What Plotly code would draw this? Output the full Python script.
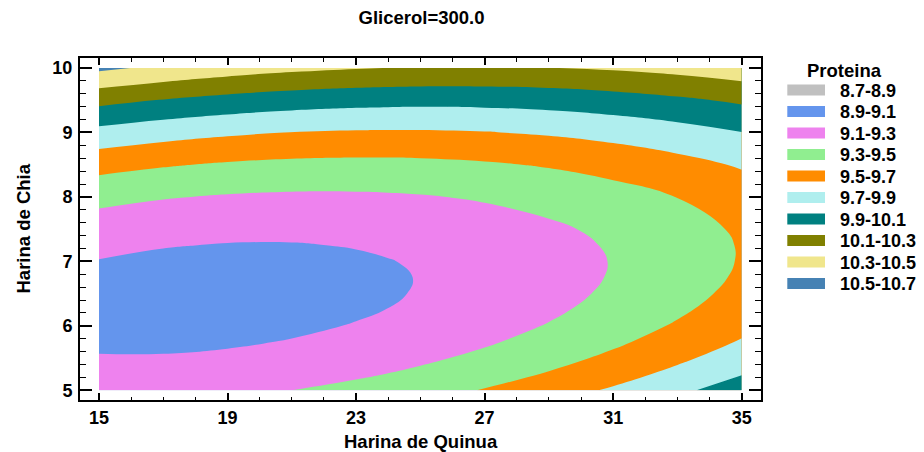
import plotly.graph_objects as go

# ---------------- data ----------------
harina_quinua = [15, 17, 19, 21, 23, 24, 25, 27, 29, 31, 33, 35]
harina_chia = [5.0, 5.25, 5.5, 5.75, 6.0, 6.25, 6.5, 6.75, 7.0, 7.25, 7.5,
               8.0, 8.5, 9.0, 9.5, 10.0]
# Proteina estimated at each (Harina de Chia row, Harina de Quinua column)
proteina = [
    [9.225, 9.235, 9.260, 9.300, 9.355, 9.388, 9.425, 9.510, 9.611, 9.726, 9.857, 10.002],
    [9.161, 9.166, 9.187, 9.222, 9.273, 9.304, 9.338, 9.419, 9.515, 9.626, 9.752, 9.893],
    [9.110, 9.111, 9.127, 9.158, 9.204, 9.233, 9.265, 9.342, 9.433, 9.539, 9.661, 9.797],
    [9.073, 9.070, 9.081, 9.108, 9.149, 9.176, 9.206, 9.278, 9.365, 9.467, 9.583, 9.716],
    [9.050, 9.042, 9.049, 9.071, 9.108, 9.132, 9.160, 9.228, 9.310, 9.407, 9.520, 9.647],
    [9.040, 9.028, 9.030, 9.048, 9.080, 9.102, 9.128, 9.191, 9.269, 9.362, 9.470, 9.593],
    [9.044, 9.027, 9.025, 9.038, 9.067, 9.086, 9.110, 9.168, 9.242, 9.330, 9.434, 9.552],
    [9.062, 9.041, 9.034, 9.043, 9.066, 9.084, 9.105, 9.159, 9.228, 9.312, 9.411, 9.525],
    [9.094, 9.068, 9.057, 9.061, 9.080, 9.095, 9.114, 9.164, 9.228, 9.307, 9.402, 9.512],
    [9.139, 9.108, 9.093, 9.092, 9.107, 9.120, 9.137, 9.182, 9.242, 9.317, 9.407, 9.512],
    [9.198, 9.163, 9.143, 9.138, 9.148, 9.159, 9.173, 9.214, 9.269, 9.340, 9.425, 9.526],
    [9.357, 9.312, 9.284, 9.270, 9.271, 9.277, 9.287, 9.319, 9.365, 9.427, 9.503, 9.595],
    [9.570, 9.517, 9.479, 9.456, 9.449, 9.450, 9.456, 9.478, 9.516, 9.568, 9.636, 9.719],
    [9.838, 9.776, 9.729, 9.698, 9.681, 9.678, 9.679, 9.693, 9.721, 9.765, 9.823, 9.897],
    [10.161, 10.090, 10.035, 9.994, 9.968, 9.961, 9.957, 9.962, 9.981, 10.016, 10.066, 10.130],
    [10.539, 10.459, 10.394, 10.345, 10.310, 10.298, 10.290, 10.286, 10.296, 10.322, 10.363, 10.418],
]
band_labels = ["8.7-8.9", "8.9-9.1", "9.1-9.3", "9.3-9.5", "9.5-9.7",
               "9.7-9.9", "9.9-10.1", "10.1-10.3", "10.3-10.5", "10.5-10.7"]
level_start, level_end, level_step = 8.9, 10.5, 0.2
x_ticks = [15, 19, 23, 27, 31, 35]
y_ticks = [5, 6, 7, 8, 9, 10]
title_text = "Glicerol=300.0"
x_title = "Harina de Quinua"
y_title = "Harina de Chia"
legend_title = "Proteina"

# ---------------- styling ----------------
band_colors = ["#C0C0C0", "#6495ED", "#EE82EE", "#90EE90", "#FF8C00",
               "#AFEEEE", "#008080", "#808000", "#F0E68C", "#4682B4"]
FONT = "Liberation Sans, Arial, Helvetica, sans-serif"
W, H = 924, 452
L, R, T, B = 80, 761, 58, 400  # plot frame in pixels

def fx(px):
    return (px - L) / (R - L)

def fy(py):
    return (B - py) / (B - T)

n = len(band_colors)
colorscale = [[k / (n - 1), c] for k, c in enumerate(band_colors)]

fig = go.Figure()
fig.add_trace(go.Contour(
    x=harina_quinua, y=harina_chia, z=proteina,
    autocontour=False,
    contours=dict(start=level_start, end=level_end, size=level_step,
                  coloring="fill", showlines=False),
    colorscale=colorscale, showscale=False,
    line=dict(width=0, smoothing=1.3),
    hoverinfo="skip",
))

axis_common = dict(showline=True, linewidth=2, linecolor="black", mirror="allticks",
                   showgrid=False, zeroline=False, ticks="inside", tickcolor="black",
                   tickwidth=1.5,
                   tickfont=dict(family=FONT, size=18, color="black", weight="bold"))

fig.update_xaxes(range=[14.41, 35.6], tickmode="array", tickvals=x_ticks,
                 ticktext=[str(v) for v in x_ticks], ticklen=7,
                 minor=dict(dtick=1, tick0=15, ticklen=3.5, ticks="inside",
                            tickcolor="black", tickwidth=1.2),
                 **axis_common)
fig.update_yaxes(range=[4.85, 10.155], tickmode="array", tickvals=y_ticks,
                 ticktext=[str(v) for v in y_ticks], ticklen=12,
                 ticklabelstandoff=2,
                 minor=dict(dtick=0.2, tick0=5, ticklen=6, ticks="inside",
                            tickcolor="black", tickwidth=1.2),
                 **axis_common)

annotations = [
    dict(text=x_title, xref="paper", yref="paper", x=0.5, y=fy(441),
         showarrow=False, xanchor="center", yanchor="middle",
         font=dict(family=FONT, size=18.5, color="black", weight="bold")),
    dict(text=y_title, xref="paper", yref="paper", x=fx(22.5), y=fy(229),
         showarrow=False, xanchor="center", yanchor="middle", textangle=-90,
         font=dict(family=FONT, size=18.5, color="black", weight="bold")),
    dict(text=legend_title, xref="paper", yref="paper", x=fx(844.5), y=fy(70),
         showarrow=False, xanchor="center", yanchor="middle",
         font=dict(family=FONT, size=18.5, color="black", weight="bold")),
]
shapes = []
for k, (lab, col) in enumerate(zip(band_labels, band_colors)):
    top = 84.5 + 21.5 * k
    shapes.append(dict(type="rect", xref="paper", yref="paper",
                       x0=fx(787.3), x1=fx(825), y0=fy(top + 11), y1=fy(top),
                       fillcolor=col, line=dict(width=0)))
    annotations.append(dict(text=lab, xref="paper", yref="paper", x=fx(838),
                            y=fy(top + 6), showarrow=False, xanchor="left",
                            yanchor="middle",
                            font=dict(family=FONT, size=18, color="black",
                                      weight="bold")))

fig.update_layout(
    width=W, height=H,
    margin=dict(l=L, r=W - R, t=T, b=H - B, pad=0),
    paper_bgcolor="white", plot_bgcolor="white",
    showlegend=False,
    title=dict(text=title_text, x=fx(421.5), xref="paper", y=1 - 18 / H,
               yref="container", xanchor="center", yanchor="middle",
               font=dict(family=FONT, size=18.5, color="black", weight="bold")),
    annotations=annotations, shapes=shapes,
)

fig.write_html("out.html")
